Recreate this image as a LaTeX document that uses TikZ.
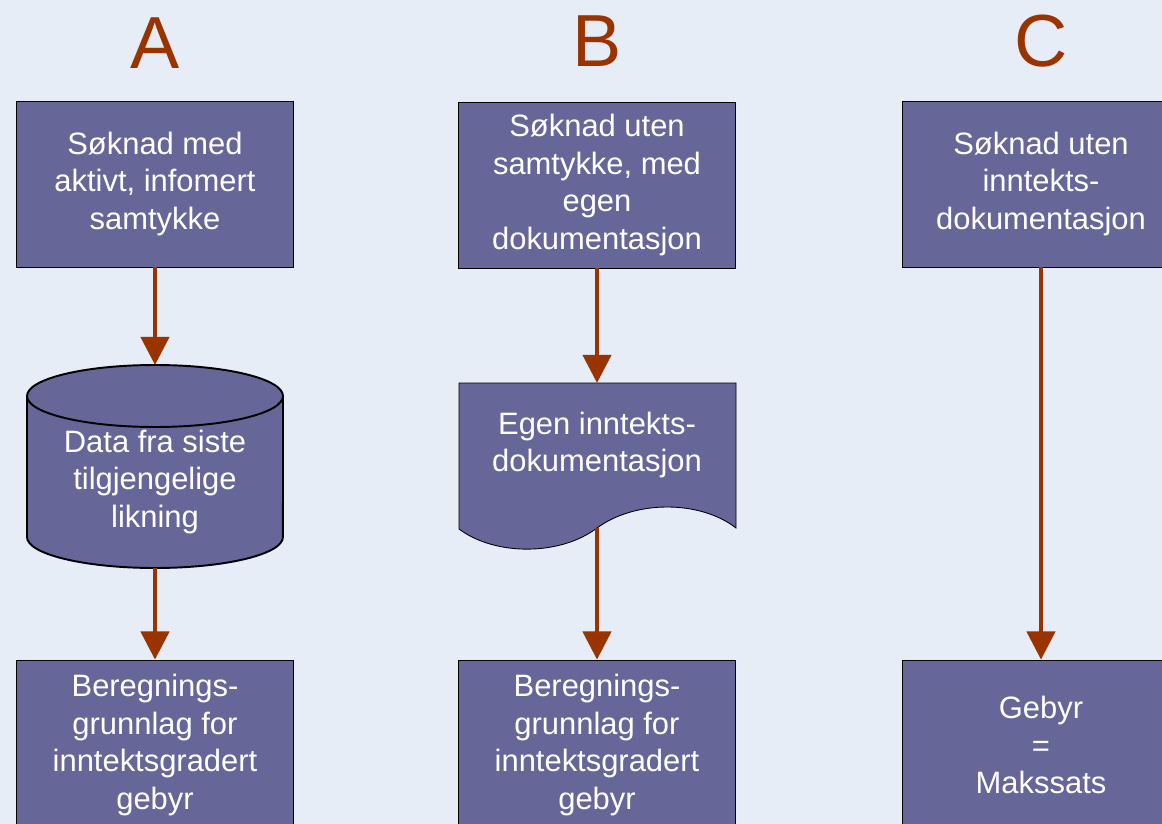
\documentclass[tikz,border=0pt]{standalone}
\usepackage{fontspec}
\setmainfont{Liberation Sans}
\usetikzlibrary{arrows.meta}

\definecolor{bgblue}{RGB}{230,237,247}
\definecolor{boxviolet}{RGB}{102,102,153}
\definecolor{rust}{RGB}{153,51,0}

\tikzset{
  box/.style={rectangle,draw=black,line width=0.5pt,fill=boxviolet,
    minimum width=5.54cm,inner sep=0pt},
  boxtext/.style={text=white,align=center,font=\fontsize{17.6}{21.5}\selectfont}
}

\begin{document}
\begin{tikzpicture}[x=0.02cm,y=-0.02cm]

      \useasboundingbox (0,0) rectangle (1162,824);
      \fill[bgblue] (0,0) rectangle (1162,824);
      \clip (0,0) rectangle (1162,824);

      \begin{scope}[every node/.style={text=rust,font=\fontsize{42}{44}\selectfont}]
        \node (A) at (155,43)  {A};
        \node (B) at (597,41)  {B};
        \node (C) at (1041,41) {C};
      \end{scope}

      % cylinder and document
      \fill[boxviolet] (27,396) -- (27,537)
        arc[start angle=180,end angle=360,x radius=2.56cm,y radius=0.62cm]
        -- (283,396)
        arc[start angle=0,end angle=180,x radius=2.56cm,y radius=0.62cm] -- cycle;
      \draw[line width=1.1pt] (27,396) -- (27,537)
        arc[start angle=180,end angle=360,x radius=2.56cm,y radius=0.62cm]
        -- (283,396);
      \draw[line width=1.1pt] (155,396) ellipse[x radius=2.56cm,y radius=0.62cm];

      \draw[fill=boxviolet,line width=0.5pt] (459,383) -- (736,383) -- (736,528)
        .. controls (700,500) and (635,500) .. (597,528)
        .. controls (560,556) and (495,556) .. (459,529) -- cycle;

      \coordinate (a2in)  at (155,365);
      \coordinate (a2out) at (155,568);
      \coordinate (b2in)  at (597,383);
      \coordinate (b2out) at (597,528);

      \begin{scope}[every node/.style={box,boxtext,minimum height=3.32cm}]
        \node (a1) at (155,184)  {Søknad med\\aktivt, infomert\\samtykke};
        \node (b1) at (597,185)  {Søknad uten\\samtykke, med\\egen\\dokumentasjon};
        \node (c1) at (1041,184) {Søknad uten\\inntekts-\\dokumentasjon};
      \end{scope}

      \begin{scope}[every node/.style={boxtext}]
        \node (a2) at (155,482) {Data fra siste\\tilgjengelige\\likning};
        \node (b2) at (597,445) {Egen inntekts-\\dokumentasjon};
      \end{scope}

      \begin{scope}[every node/.style={box,boxtext,minimum height=3.4cm}]
        \node (a3) at (155,745)  {Beregnings-\\grunnlag for\\inntektsgradert\\gebyr};
        \node (b3) at (597,745)  {Beregnings-\\grunnlag for\\inntektsgradert\\gebyr};
        \node (c3) at (1041,745) {Gebyr\\=\\Makssats};
      \end{scope}

      \begin{scope}[every edge/.style={draw,rust,line width=2.3pt,
          -{Triangle[width=16pt,length=16pt]}}]
        \path (a1)    edge (a2in);
        \path (a2out) edge (a3);
        \path (b1)    edge (b2in);
        \path (b2out) edge (b3);
        \path (c1)    edge (c3);
      \end{scope}

    \end{tikzpicture}
\end{document}
